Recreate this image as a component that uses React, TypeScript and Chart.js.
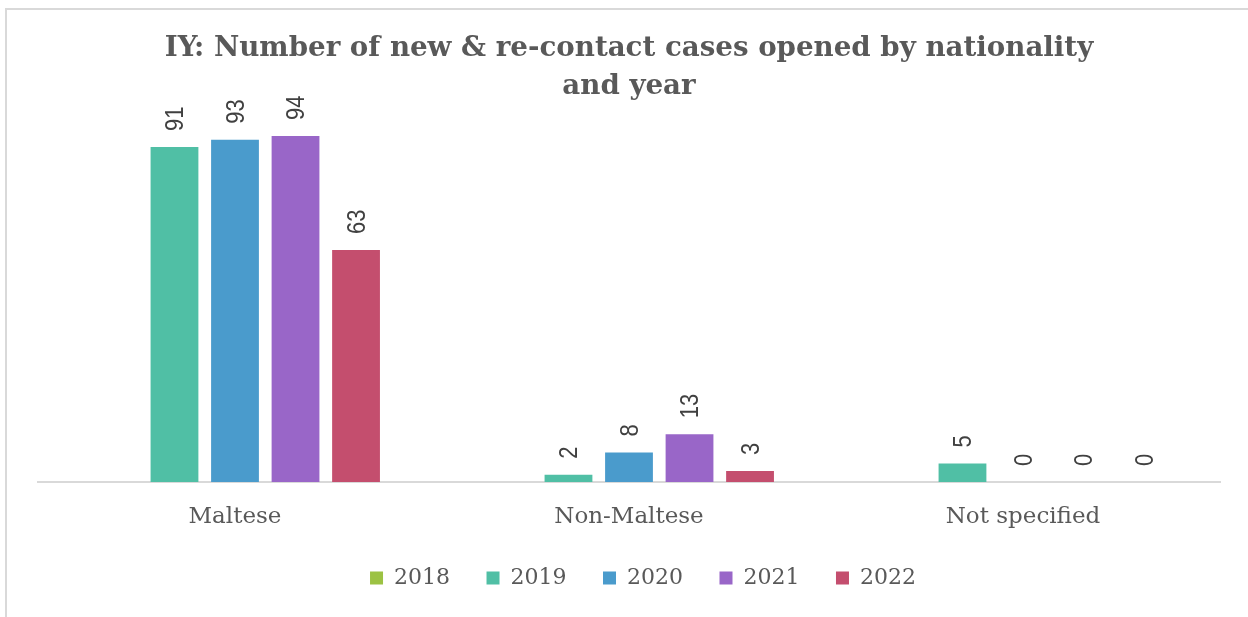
import React, { useEffect, useRef } from "react";
import { Chart, registerables } from "chart.js";

Chart.register(...registerables);

const categories = ["Maltese", "Non-Maltese", "Not specified"];
const years = ["2018", "2019", "2020", "2021", "2022"];
const values2018: (number | null)[] = [null, null, null];
const values2019: (number | null)[] = [91, 2, 5];
const values2020: (number | null)[] = [93, 8, 0];
const values2021: (number | null)[] = [94, 13, 0];
const values2022: (number | null)[] = [63, 3, 0];
const seriesColors = ["#9CC243", "#50BFA5", "#4A9BCC", "#9966C8", "#C44E6E"];
const titleLines = ["IY: Number of new & re-contact cases opened by nationality", "and year"];

const dataLabelPlugin = {
  id: "rotatedLabels",
  afterLayout(chart: any) {
    if (chart.legend) {
      chart.legend.left += 14;
      chart.legend.right += 14;
    }
  },
  afterDatasetsDraw(chart: any) {
    const ctx = chart.ctx;
    ctx.save();
    ctx.fillStyle = "#404040";
    ctx.font = "22px 'Liberation Sans', Arial, sans-serif";
    ctx.textAlign = "left";
    ctx.textBaseline = "middle";
    chart.data.datasets.forEach((ds: any, i: number) => {
      const meta = chart.getDatasetMeta(i);
      meta.data.forEach((el: any, j: number) => {
        const v = ds.data[j];
        if (v === null || v === undefined) return;
        ctx.save();
        ctx.translate(el.x + 2, el.y - 16);
        ctx.rotate(-Math.PI / 2);
        ctx.scale(1, 1.15);
        ctx.fillText(String(v), 0, 0);
        ctx.restore();
      });
    });
    ctx.restore();
  },
};

export default function App() {
  const ref = useRef<HTMLCanvasElement | null>(null);
  useEffect(() => {
    if (!ref.current) return;
    const allSeries = [values2018, values2019, values2020, values2021, values2022];
    const chart = new Chart(ref.current, {
      type: "bar",
      data: {
        labels: categories,
        datasets: years.map((y, i) => ({
          label: y,
          data: allSeries[i],
          backgroundColor: seriesColors[i],
          borderWidth: 0,
          categoryPercentage: 0.768,
          barPercentage: 0.79,
        })),
      },
      options: {
        animation: false,
        responsive: false,
        maintainAspectRatio: false,
        layout: { padding: { left: 38, right: 28, top: 30, bottom: 18 } },
        scales: {
          x: {
            grid: { display: false, drawTicks: false },
            border: { display: true, color: "#D9D9D9", width: 2 },
            ticks: {
              color: "#595959",
              padding: 21,
              font: { family: "'DejaVu Serif', serif", size: 23 },
            },
            afterFit: (scale: any) => {
              scale.height = 48.5;
            },
          },
          y: {
            display: false,
            min: 0,
            max: 100,
          },
        },
        plugins: {
          title: {
            display: true,
            text: titleLines,
            color: "#595959",
            font: { family: "'DejaVu Serif', serif", size: 27.7, weight: "bold", lineHeight: 1.37 },
            padding: { top: 0, bottom: 8 },
          },
          legend: {
            position: "bottom",
            labels: {
              boxWidth: 13,
              boxHeight: 13,
              padding: 36.5,
              color: "#595959",
              font: { family: "'DejaVu Serif', serif", size: 22 },
            },
          },
          tooltip: { enabled: false },
        },
      },
      plugins: [dataLabelPlugin],
    });
    return () => chart.destroy();
  }, []);
  return (
    <div style={{ position: "fixed", left: 0, top: 0, width: 1248, height: 617, background: "#fff", overflow: "hidden" }}>
      <div
        style={{
          position: "absolute",
          left: 5,
          top: 8,
          width: 1300,
          height: 700,
          border: "2px solid #D9D9D9",
          boxSizing: "border-box",
        }}
      />
      <canvas ref={ref} width={1248} height={617} style={{ position: "absolute", left: 0, top: 0 }} />
    </div>
  );
}
